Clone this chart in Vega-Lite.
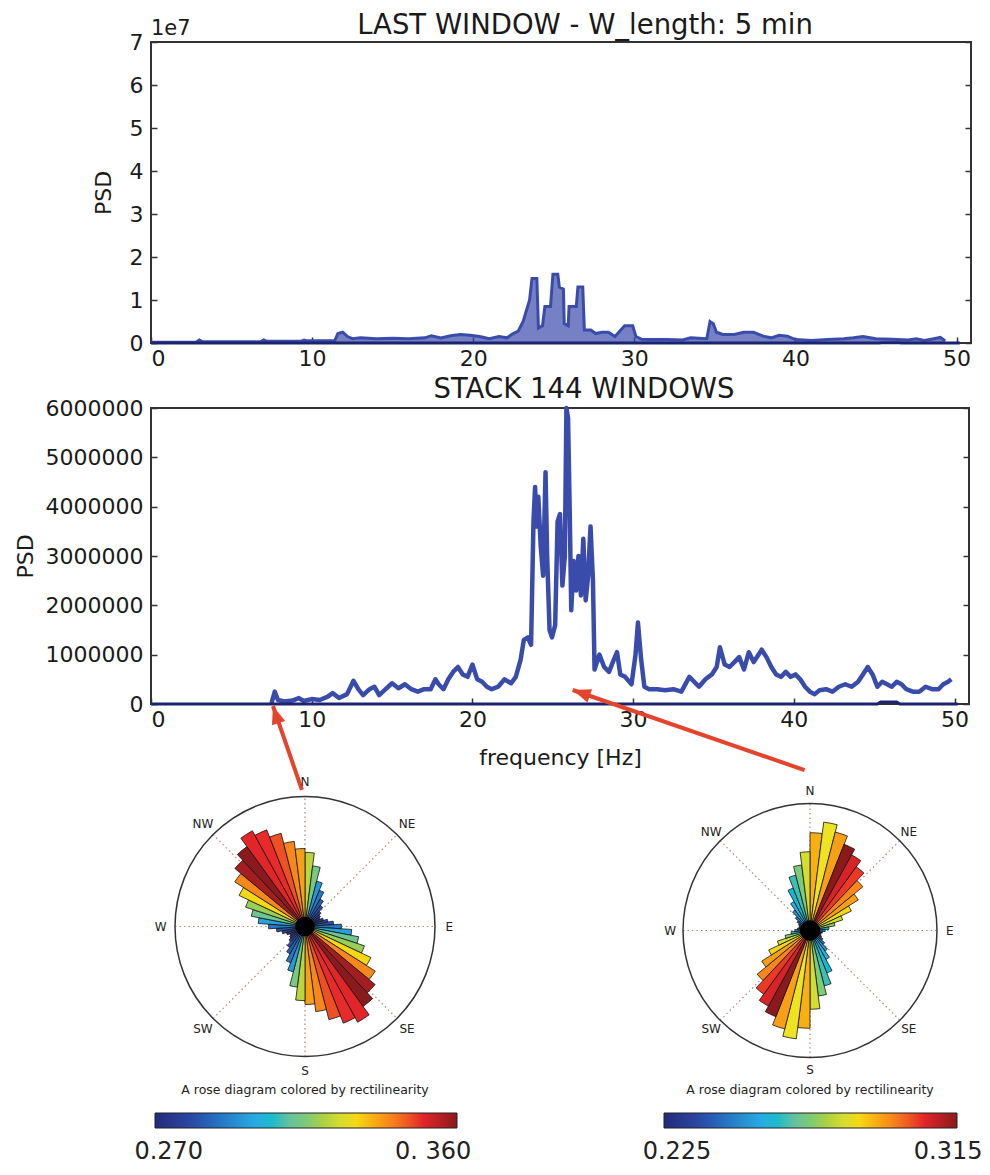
{
  "$schema": "https://vega.github.io/schema/vega-lite/v6.json",
  "padding": {"left": 13, "top": 10, "right": 0, "bottom": 0},
  "background": "white",
  "config": {"font": "DejaVu Sans", "view": {"stroke": null}},
  "datasets": {
    "top": [
      {"f":0,"psd":200000},{"f":2.8,"psd":200000},{"f":3.0,"psd":700000},{"f":3.2,"psd":300000},{"f":6.8,"psd":300000},{"f":7.0,"psd":700000},{"f":7.2,"psd":400000},{"f":9.3,"psd":400000},{"f":9.5,"psd":700000},{"f":9.7,"psd":500000},{"f":11.4,"psd":500000},{"f":11.6,"psd":2200000},{"f":11.9,"psd":2500000},{"f":12.2,"psd":1500000},{"f":12.5,"psd":1000000},{"f":13,"psd":1200000},{"f":14,"psd":1000000},{"f":15,"psd":1100000},{"f":16,"psd":1000000},{"f":17,"psd":1200000},{"f":17.4,"psd":1700000},{"f":18,"psd":1200000},{"f":18.6,"psd":1700000},{"f":19.2,"psd":2000000},{"f":19.8,"psd":1800000},{"f":20.4,"psd":1500000},{"f":21,"psd":1000000},{"f":21.6,"psd":1500000},{"f":22.1,"psd":1200000},{"f":22.4,"psd":2000000},{"f":22.8,"psd":2800000},{"f":23.1,"psd":5000000},{"f":23.3,"psd":7500000},{"f":23.5,"psd":10000000},{"f":23.65,"psd":15000000},{"f":23.95,"psd":15000000},{"f":24.05,"psd":3500000},{"f":24.3,"psd":4000000},{"f":24.45,"psd":8500000},{"f":24.8,"psd":8500000},{"f":24.95,"psd":16000000},{"f":25.25,"psd":16000000},{"f":25.35,"psd":13000000},{"f":25.6,"psd":12500000},{"f":25.65,"psd":4500000},{"f":25.9,"psd":4000000},{"f":25.95,"psd":8500000},{"f":26.4,"psd":8500000},{"f":26.5,"psd":13000000},{"f":26.8,"psd":13000000},{"f":26.9,"psd":3000000},{"f":27.3,"psd":3000000},{"f":27.6,"psd":2200000},{"f":28.0,"psd":2500000},{"f":28.4,"psd":2500000},{"f":28.8,"psd":1500000},{"f":29.4,"psd":4000000},{"f":29.9,"psd":4000000},{"f":30.1,"psd":1500000},{"f":30.5,"psd":800000},{"f":32,"psd":800000},{"f":33,"psd":700000},{"f":33.5,"psd":1200000},{"f":34.5,"psd":1000000},{"f":34.7,"psd":5000000},{"f":34.9,"psd":4500000},{"f":35.1,"psd":2500000},{"f":35.5,"psd":2000000},{"f":36.2,"psd":2000000},{"f":36.8,"psd":2500000},{"f":37.4,"psd":2500000},{"f":38,"psd":1600000},{"f":38.5,"psd":1200000},{"f":39,"psd":1800000},{"f":39.5,"psd":1600000},{"f":40,"psd":800000},{"f":41,"psd":600000},{"f":42,"psd":800000},{"f":43,"psd":1000000},{"f":43.6,"psd":1200000},{"f":44.2,"psd":1500000},{"f":45,"psd":1000000},{"f":46,"psd":900000},{"f":47,"psd":700000},{"f":47.5,"psd":1000000},{"f":48,"psd":600000},{"f":48.6,"psd":1000000},{"f":49,"psd":1300000},{"f":49.3,"psd":500000}
    ],
    "stack": [
      {"f":7.5,"psd":20000},{"f":7.7,"psd":250000},{"f":7.9,"psd":80000},{"f":8.3,"psd":50000},{"f":8.8,"psd":70000},{"f":9.2,"psd":120000},{"f":9.5,"psd":60000},{"f":10,"psd":100000},{"f":10.5,"psd":80000},{"f":11,"psd":150000},{"f":11.3,"psd":220000},{"f":11.7,"psd":120000},{"f":12.2,"psd":200000},{"f":12.6,"psd":470000},{"f":12.9,"psd":300000},{"f":13.2,"psd":180000},{"f":13.6,"psd":300000},{"f":13.9,"psd":350000},{"f":14.2,"psd":180000},{"f":14.6,"psd":300000},{"f":15,"psd":420000},{"f":15.4,"psd":320000},{"f":15.8,"psd":400000},{"f":16.2,"psd":300000},{"f":16.6,"psd":250000},{"f":17,"psd":300000},{"f":17.4,"psd":300000},{"f":17.7,"psd":500000},{"f":17.9,"psd":400000},{"f":18.2,"psd":300000},{"f":18.5,"psd":500000},{"f":18.8,"psd":650000},{"f":19.1,"psd":750000},{"f":19.4,"psd":600000},{"f":19.7,"psd":550000},{"f":20,"psd":800000},{"f":20.3,"psd":500000},{"f":20.6,"psd":450000},{"f":20.9,"psd":350000},{"f":21.2,"psd":300000},{"f":21.6,"psd":350000},{"f":22,"psd":500000},{"f":22.4,"psd":420000},{"f":22.7,"psd":550000},{"f":23.0,"psd":900000},{"f":23.2,"psd":1300000},{"f":23.45,"psd":1350000},{"f":23.65,"psd":1200000},{"f":23.8,"psd":3700000},{"f":23.9,"psd":4400000},{"f":24.0,"psd":3600000},{"f":24.1,"psd":4200000},{"f":24.25,"psd":3200000},{"f":24.4,"psd":2600000},{"f":24.55,"psd":4700000},{"f":24.65,"psd":3000000},{"f":24.8,"psd":1500000},{"f":24.95,"psd":1350000},{"f":25.15,"psd":1600000},{"f":25.3,"psd":3700000},{"f":25.45,"psd":3850000},{"f":25.6,"psd":2400000},{"f":25.75,"psd":3000000},{"f":25.85,"psd":6000000},{"f":25.95,"psd":5800000},{"f":26.05,"psd":4000000},{"f":26.15,"psd":1900000},{"f":26.3,"psd":2900000},{"f":26.45,"psd":2300000},{"f":26.6,"psd":3000000},{"f":26.75,"psd":2200000},{"f":26.9,"psd":3350000},{"f":27.05,"psd":2100000},{"f":27.2,"psd":2600000},{"f":27.35,"psd":3600000},{"f":27.5,"psd":2500000},{"f":27.6,"psd":700000},{"f":27.9,"psd":1000000},{"f":28.2,"psd":750000},{"f":28.5,"psd":650000},{"f":28.8,"psd":900000},{"f":29.0,"psd":1050000},{"f":29.2,"psd":600000},{"f":29.5,"psd":550000},{"f":29.9,"psd":400000},{"f":30.15,"psd":1000000},{"f":30.3,"psd":1650000},{"f":30.5,"psd":900000},{"f":30.7,"psd":350000},{"f":31,"psd":300000},{"f":31.5,"psd":300000},{"f":32,"psd":280000},{"f":32.5,"psd":300000},{"f":33,"psd":250000},{"f":33.5,"psd":550000},{"f":33.8,"psd":450000},{"f":34.1,"psd":350000},{"f":34.5,"psd":500000},{"f":34.9,"psd":600000},{"f":35.2,"psd":750000},{"f":35.4,"psd":1150000},{"f":35.7,"psd":800000},{"f":36,"psd":750000},{"f":36.3,"psd":850000},{"f":36.6,"psd":950000},{"f":36.9,"psd":700000},{"f":37.2,"psd":1050000},{"f":37.5,"psd":850000},{"f":37.8,"psd":1000000},{"f":38.0,"psd":1100000},{"f":38.3,"psd":950000},{"f":38.6,"psd":750000},{"f":38.9,"psd":600000},{"f":39.2,"psd":550000},{"f":39.5,"psd":650000},{"f":39.8,"psd":550000},{"f":40.1,"psd":600000},{"f":40.4,"psd":500000},{"f":40.7,"psd":350000},{"f":41.0,"psd":250000},{"f":41.3,"psd":200000},{"f":41.6,"psd":280000},{"f":42.0,"psd":300000},{"f":42.4,"psd":250000},{"f":42.8,"psd":350000},{"f":43.2,"psd":400000},{"f":43.6,"psd":350000},{"f":44.0,"psd":450000},{"f":44.3,"psd":600000},{"f":44.6,"psd":750000},{"f":44.9,"psd":600000},{"f":45.2,"psd":350000},{"f":45.5,"psd":450000},{"f":45.8,"psd":400000},{"f":46.1,"psd":350000},{"f":46.4,"psd":450000},{"f":46.7,"psd":400000},{"f":47.0,"psd":300000},{"f":47.4,"psd":250000},{"f":47.8,"psd":250000},{"f":48.2,"psd":350000},{"f":48.6,"psd":300000},{"f":49.0,"psd":300000},{"f":49.3,"psd":400000},{"f":49.6,"psd":450000},{"f":49.8,"psd":500000}
    ],
    "base": [
      {"f":0,"psd":0},{"f":45.2,"psd":0},{"f":45.4,"psd":40000},{"f":46.4,"psd":40000},{"f":46.6,"psd":0},{"f":50.2,"psd":0}
    ],
    "arrows": [
      {"id":"a","f":9.39,"psd":-1740000,"f2":7.59,"psd2":-40000},
      {"id":"b","f":40.67,"psd":-1340000,"f2":26.24,"psd2":284000}
    ],
    "spokes": [
      {"x":0,"y":-1,"x2":0,"y2":1},{"x":-1,"y":0,"x2":1,"y2":0},
      {"x":-0.7071,"y":-0.7071,"x2":0.7071,"y2":0.7071},{"x":-0.7071,"y":0.7071,"x2":0.7071,"y2":-0.7071}
    ],
    "compass": [
      {"d":"N","ang":0},{"d":"NE","ang":45},{"d":"E","ang":90},{"d":"SE","ang":135},
      {"d":"S","ang":180},{"d":"SW","ang":225},{"d":"W","ang":270},{"d":"NW","ang":315}
    ],
    "roseL": [
      {"a0":0,"a1":7.2,"r":0.57,"v":0.322},{"a0":7.2,"a1":14.4,"r":0.47,"v":0.314},{"a0":14.4,"a1":21.6,"r":0.36,"v":0.296},{"a0":21.6,"a1":28.8,"r":0.30,"v":0.29},{"a0":28.8,"a1":36,"r":0.24,"v":0.285},{"a0":36,"a1":43.2,"r":0.20,"v":0.281},{"a0":43.2,"a1":50.4,"r":0.16,"v":0.278},{"a0":50.4,"a1":57.6,"r":0.14,"v":0.276},{"a0":57.6,"a1":64.8,"r":0.13,"v":0.275},{"a0":64.8,"a1":72,"r":0.15,"v":0.277},{"a0":72,"a1":79.2,"r":0.18,"v":0.28},{"a0":79.2,"a1":86.4,"r":0.22,"v":0.284},{"a0":86.4,"a1":93.6,"r":0.28,"v":0.29},{"a0":93.6,"a1":100.8,"r":0.36,"v":0.298},{"a0":100.8,"a1":108,"r":0.42,"v":0.312},{"a0":108,"a1":115.2,"r":0.48,"v":0.318},{"a0":115.2,"a1":122.4,"r":0.56,"v":0.33},{"a0":122.4,"a1":129.6,"r":0.64,"v":0.34},{"a0":129.6,"a1":136.8,"r":0.70,"v":0.357},{"a0":136.8,"a1":144,"r":0.76,"v":0.36},{"a0":144,"a1":151.2,"r":0.84,"v":0.35},{"a0":151.2,"a1":158.4,"r":0.80,"v":0.349},{"a0":158.4,"a1":165.6,"r":0.74,"v":0.346},{"a0":165.6,"a1":172.8,"r":0.66,"v":0.34},{"a0":172.8,"a1":180,"r":0.60,"v":0.337},
      {"a0":180,"a1":187.2,"r":0.57,"v":0.322},{"a0":187.2,"a1":194.4,"r":0.47,"v":0.314},{"a0":194.4,"a1":201.6,"r":0.36,"v":0.296},{"a0":201.6,"a1":208.8,"r":0.30,"v":0.29},{"a0":208.8,"a1":216,"r":0.24,"v":0.285},{"a0":216,"a1":223.2,"r":0.20,"v":0.281},{"a0":223.2,"a1":230.4,"r":0.16,"v":0.278},{"a0":230.4,"a1":237.6,"r":0.14,"v":0.276},{"a0":237.6,"a1":244.8,"r":0.13,"v":0.275},{"a0":244.8,"a1":252,"r":0.15,"v":0.277},{"a0":252,"a1":259.2,"r":0.18,"v":0.28},{"a0":259.2,"a1":266.4,"r":0.22,"v":0.284},{"a0":266.4,"a1":273.6,"r":0.28,"v":0.29},{"a0":273.6,"a1":280.8,"r":0.36,"v":0.298},{"a0":280.8,"a1":288,"r":0.42,"v":0.312},{"a0":288,"a1":295.2,"r":0.48,"v":0.318},{"a0":295.2,"a1":302.4,"r":0.56,"v":0.33},{"a0":302.4,"a1":309.6,"r":0.64,"v":0.34},{"a0":309.6,"a1":316.8,"r":0.70,"v":0.357},{"a0":316.8,"a1":324,"r":0.76,"v":0.36},{"a0":324,"a1":331.2,"r":0.84,"v":0.35},{"a0":331.2,"a1":338.4,"r":0.80,"v":0.349},{"a0":338.4,"a1":345.6,"r":0.74,"v":0.346},{"a0":345.6,"a1":352.8,"r":0.66,"v":0.34},{"a0":352.8,"a1":360,"r":0.60,"v":0.337}
    ],
    "roseR": [
      {"a0":0,"a1":7.2,"r":0.77,"v":0.29},{"a0":7.2,"a1":14.4,"r":0.86,"v":0.283},{"a0":14.4,"a1":21.6,"r":0.80,"v":0.292},{"a0":21.6,"a1":28.8,"r":0.73,"v":0.315},{"a0":28.8,"a1":36,"r":0.68,"v":0.306},{"a0":36,"a1":43.2,"r":0.62,"v":0.303},{"a0":43.2,"a1":50.4,"r":0.54,"v":0.295},{"a0":50.4,"a1":57.6,"r":0.45,"v":0.292},{"a0":57.6,"a1":64.8,"r":0.36,"v":0.285},{"a0":64.8,"a1":72,"r":0.27,"v":0.28},{"a0":72,"a1":79.2,"r":0.20,"v":0.272},{"a0":79.2,"a1":86.4,"r":0.15,"v":0.26},{"a0":86.4,"a1":93.6,"r":0.12,"v":0.25},{"a0":93.6,"a1":100.8,"r":0.10,"v":0.24},{"a0":100.8,"a1":108,"r":0.09,"v":0.235},{"a0":108,"a1":115.2,"r":0.09,"v":0.232},{"a0":115.2,"a1":122.4,"r":0.10,"v":0.235},{"a0":122.4,"a1":129.6,"r":0.12,"v":0.24},{"a0":129.6,"a1":136.8,"r":0.15,"v":0.245},{"a0":136.8,"a1":144,"r":0.20,"v":0.25},{"a0":144,"a1":151.2,"r":0.26,"v":0.256},{"a0":151.2,"a1":158.4,"r":0.36,"v":0.259},{"a0":158.4,"a1":165.6,"r":0.45,"v":0.262},{"a0":165.6,"a1":172.8,"r":0.52,"v":0.27},{"a0":172.8,"a1":180,"r":0.62,"v":0.28},
      {"a0":180,"a1":187.2,"r":0.77,"v":0.29},{"a0":187.2,"a1":194.4,"r":0.86,"v":0.283},{"a0":194.4,"a1":201.6,"r":0.80,"v":0.292},{"a0":201.6,"a1":208.8,"r":0.73,"v":0.315},{"a0":208.8,"a1":216,"r":0.68,"v":0.306},{"a0":216,"a1":223.2,"r":0.62,"v":0.303},{"a0":223.2,"a1":230.4,"r":0.54,"v":0.295},{"a0":230.4,"a1":237.6,"r":0.45,"v":0.292},{"a0":237.6,"a1":244.8,"r":0.36,"v":0.285},{"a0":244.8,"a1":252,"r":0.27,"v":0.28},{"a0":252,"a1":259.2,"r":0.20,"v":0.272},{"a0":259.2,"a1":266.4,"r":0.15,"v":0.26},{"a0":266.4,"a1":273.6,"r":0.12,"v":0.25},{"a0":273.6,"a1":280.8,"r":0.10,"v":0.24},{"a0":280.8,"a1":288,"r":0.09,"v":0.235},{"a0":288,"a1":295.2,"r":0.09,"v":0.232},{"a0":295.2,"a1":302.4,"r":0.10,"v":0.235},{"a0":302.4,"a1":309.6,"r":0.12,"v":0.24},{"a0":309.6,"a1":316.8,"r":0.15,"v":0.245},{"a0":316.8,"a1":324,"r":0.20,"v":0.25},{"a0":324,"a1":331.2,"r":0.26,"v":0.256},{"a0":331.2,"a1":338.4,"r":0.36,"v":0.259},{"a0":338.4,"a1":345.6,"r":0.45,"v":0.262},{"a0":345.6,"a1":352.8,"r":0.52,"v":0.27},{"a0":352.8,"a1":360,"r":0.62,"v":0.28}
    ]
  },
  "bounds": "flush",
  "spacing": 65,
  "vconcat": [
    {
      "width": 820,
      "height": 301,
      "view": {"stroke": "#333333", "strokeWidth": 2},
      "title": {"text": "LAST WINDOW - W_length: 5 min", "fontSize": 27.5, "fontWeight": "normal", "offset": -21, "dx": 24, "color": "#1a1a1a"},
      "resolve": {"axis": {"x": "independent", "y": "independent"}},
      "layer": [
        {
          "data": {"name": "top"},
          "mark": {"type": "area", "color": "#3a4cab", "line": {"color": "#3a4cab", "strokeWidth": 3}},
          "encoding": {
            "x": {"field": "f", "type": "quantitative", "scale": {"domain": [0, 50.9], "nice": false, "zero": false},
                  "axis": {"orient": "bottom", "values": [0,10,20,30,40,50], "ticks": false, "domain": false, "grid": false, "labelFontSize": 22, "labelPadding": 5, "labelColor": "#1a1a1a", "title": null}},
            "y": {"field": "psd", "type": "quantitative", "scale": {"domain": [0, 70000000], "nice": false},
                  "axis": {"orient": "left", "values": [0,10000000,20000000,30000000,40000000,50000000,60000000,70000000], "labelExpr": "format(datum.value/10000000,'d')", "ticks": false, "domain": false, "grid": false, "labelFontSize": 22, "labelPadding": 8, "labelColor": "#1a1a1a", "title": "PSD", "titleFontSize": 22, "titleFontWeight": "normal", "titleColor": "#1a1a1a", "titlePadding": 14}}
          }
        },
        {
          "data": {"name": "base"},
          "mark": {"type": "line", "color": "#1c2370", "strokeWidth": 3},
          "encoding": {
            "x": {"field": "f", "type": "quantitative", "axis": null},
            "y": {"field": "psd", "type": "quantitative", "axis": {"orient": "right", "values": [0,10000000,20000000,30000000,40000000,50000000,60000000,70000000], "labels": false, "domain": false, "grid": false, "ticks": true, "tickSize": -6, "tickColor": "#333333", "tickWidth": 1.5, "title": null, "minExtent": 0, "maxExtent": 0}}
          }
        },
        {
          "data": {"values": [{"f": 0, "psd": 70000000, "t": "1e7"}]},
          "mark": {"type": "text", "align": "left", "baseline": "alphabetic", "dy": -7, "fontSize": 21, "color": "#1a1a1a"},
          "encoding": {
            "x": {"field": "f", "type": "quantitative", "axis": {"orient": "bottom", "values": [0,10,20,30,40,50], "labels": false, "domain": false, "grid": false, "ticks": true, "tickSize": -6, "tickColor": "#333333", "tickWidth": 1.5, "title": null, "minExtent": 0, "maxExtent": 0}},
            "y": {"field": "psd", "type": "quantitative", "axis": {"orient": "left", "values": [0,10000000,20000000,30000000,40000000,50000000,60000000,70000000], "labels": false, "domain": false, "grid": false, "ticks": true, "tickSize": -6, "tickColor": "#333333", "tickWidth": 1.5, "title": null, "minExtent": 0, "maxExtent": 0}},
            "text": {"field": "t"}
          }
        }
      ]
    },
    {
      "width": 818,
      "height": 296,
      "view": {"stroke": "#333333", "strokeWidth": 2},
      "title": {"text": "STACK 144 WINDOWS", "fontSize": 27.5, "fontWeight": "normal", "offset": -6, "dx": 24, "color": "#1a1a1a"},
      "resolve": {"axis": {"x": "independent", "y": "independent"}},
      "layer": [
        {
          "data": {"name": "stack"},
          "mark": {"type": "line", "color": "#3a4cab", "strokeWidth": 4.5, "strokeJoin": "round"},
          "encoding": {
            "x": {"field": "f", "type": "quantitative", "scale": {"domain": [0, 50.9], "nice": false, "zero": false},
                  "axis": {"orient": "bottom", "values": [0,10,20,30,40,50], "ticks": false, "domain": false, "grid": false, "labelFontSize": 22, "labelPadding": 5, "labelColor": "#1a1a1a", "title": "frequency [Hz]", "titleFontSize": 22, "titleFontWeight": "normal", "titleColor": "#1a1a1a", "titlePadding": 17}},
            "y": {"field": "psd", "type": "quantitative", "scale": {"domain": [0, 6000000], "nice": false},
                  "axis": {"orient": "left", "values": [0,1000000,2000000,3000000,4000000,5000000,6000000], "format": "d", "ticks": false, "domain": false, "grid": false, "labelFontSize": 22, "labelPadding": 8, "labelColor": "#1a1a1a", "title": "PSD", "titleFontSize": 22, "titleFontWeight": "normal", "titleColor": "#1a1a1a", "titlePadding": 8}}
          }
        },
        {
          "data": {"name": "base"},
          "mark": {"type": "line", "color": "#1c2370", "strokeWidth": 3},
          "encoding": {
            "x": {"field": "f", "type": "quantitative", "axis": null},
            "y": {"field": "psd", "type": "quantitative", "axis": {"orient": "right", "values": [0,1000000,2000000,3000000,4000000,5000000,6000000], "labels": false, "domain": false, "grid": false, "ticks": true, "tickSize": -6, "tickColor": "#333333", "tickWidth": 1.5, "title": null, "minExtent": 0, "maxExtent": 0}}
          }
        },
        {
          "data": {"name": "arrows"},
          "mark": {"type": "rule", "color": "#e5432b", "strokeWidth": 4, "clip": false},
          "encoding": {
            "x": {"field": "f", "type": "quantitative", "axis": {"orient": "bottom", "values": [0,10,20,30,40,50], "labels": false, "domain": false, "grid": false, "ticks": true, "tickSize": -6, "tickColor": "#333333", "tickWidth": 1.5, "title": null, "minExtent": 0, "maxExtent": 0}},
            "y": {"field": "psd", "type": "quantitative", "axis": {"orient": "left", "values": [0,1000000,2000000,3000000,4000000,5000000,6000000], "labels": false, "domain": false, "grid": false, "ticks": true, "tickSize": -6, "tickColor": "#333333", "tickWidth": 1.5, "title": null, "minExtent": 0, "maxExtent": 0}},
            "x2": {"field": "f2"},
            "y2": {"field": "psd2"}
          }
        },
        {
          "data": {"name": "arrows"},
          "transform": [{"filter": "datum.id == 'a'"}],
          "mark": {"type": "point", "shape": "M0,0L-0.65,1.7L0.65,1.7Z", "filled": true, "color": "#e5432b", "opacity": 1, "size": 450, "angle": -18, "clip": false},
          "encoding": {
            "x": {"field": "f2", "type": "quantitative", "axis": null},
            "y": {"field": "psd2", "type": "quantitative", "axis": null}
          }
        },
        {
          "data": {"name": "arrows"},
          "transform": [{"filter": "datum.id == 'b'"}],
          "mark": {"type": "point", "shape": "M0,0L-0.65,1.7L0.65,1.7Z", "filled": true, "color": "#e5432b", "opacity": 1, "size": 450, "angle": -71, "clip": false},
          "encoding": {
            "x": {"field": "f2", "type": "quantitative", "axis": null},
            "y": {"field": "psd2", "type": "quantitative", "axis": null}
          }
        }
      ]
    },
    {
      "bounds": "flush",
      "spacing": 197,
      "resolve": {"scale": {"color": "independent", "theta": "independent", "radius": "independent", "x": "independent", "y": "independent"}, "legend": {"color": "independent"}},
      "hconcat": [
        {
          "width": 308,
          "height": 315,
          "layer": [
            {
              "data": {"name": "spokes"},
              "mark": {"type": "rule", "color": "#b08878", "strokeDash": [1.5, 3], "strokeWidth": 1.2},
              "encoding": {
                "x": {"field": "x", "type": "quantitative", "scale": {"domain": [-1.1846, 1.1846], "nice": false, "zero": false}, "axis": null},
                "y": {"field": "y", "type": "quantitative", "scale": {"domain": [-1.2115, 1.2115], "nice": false, "zero": false}, "axis": null},
                "x2": {"field": "x2"},
                "y2": {"field": "y2"}
              }
            },
            {
              "data": {"values": [{"x": 0, "y": -1.258, "t": "A rose diagram colored by rectilinearity"}]},
              "mark": {"type": "text", "align": "center", "baseline": "middle", "fontSize": 12.5, "color": "#222222"},
              "encoding": {
                "x": {"field": "x", "type": "quantitative", "axis": null},
                "y": {"field": "y", "type": "quantitative", "axis": null},
                "text": {"field": "t"}
              }
            },
            {
              "data": {"values": [{"t0": 0, "t1": 360, "r": 1}]},
              "mark": {"type": "arc", "filled": false, "stroke": "#333333", "strokeWidth": 1.5},
              "encoding": {
                "theta": {"field": "t0", "type": "quantitative", "scale": {"domain": [0, 360]}, "stack": null},
                "theta2": {"field": "t1"},
                "radius": {"field": "r", "type": "quantitative", "scale": {"type": "linear", "domain": [0, 1], "range": [0, 130], "zero": true, "nice": false}}
              }
            },
            {
              "data": {"name": "roseL"},
              "mark": {"type": "arc", "stroke": "#111111", "strokeWidth": 0.8},
              "encoding": {
                "theta": {"field": "a0", "type": "quantitative", "scale": {"domain": [0, 360]}, "stack": null},
                "theta2": {"field": "a1"},
                "radius": {"field": "r", "type": "quantitative", "scale": {"type": "linear", "domain": [0, 1], "range": [0, 130], "zero": true, "nice": false}},
                "color": {"field": "v", "type": "quantitative",
                  "scale": {"domain": [0.27, 0.28125, 0.2925, 0.3015, 0.3105, 0.3195, 0.3285, 0.3384, 0.3492, 0.36],
                            "range": ["#222a7a", "#2b4aa6", "#2b86cc", "#2ab3e6", "#6cc19a", "#a8cf45", "#f2e41e", "#f7941d", "#e8262a", "#8b1a1c"]},
                  "legend": {"orient": "none", "legendX": 4, "legendY": 344, "direction": "horizontal", "gradientLength": 302, "gradientThickness": 15, "title": null, "values": [0.2741, 0.3529], "labelExpr": "datum.value < 0.3 ? '0.270' : '0. 360'", "labelFontSize": 24, "labelAlign": "center", "labelOffset": 12, "labelColor": "#222222", "gradientStrokeColor": "#222222", "gradientStrokeWidth": 1}}
              }
            },
            {
              "data": {"values": [{"t0": 0, "t1": 360, "r": 0.075}]},
              "mark": {"type": "arc", "color": "#000000"},
              "encoding": {
                "theta": {"field": "t0", "type": "quantitative", "scale": {"domain": [0, 360]}, "stack": null},
                "theta2": {"field": "t1"},
                "radius": {"field": "r", "type": "quantitative", "scale": {"type": "linear", "domain": [0, 1], "range": [0, 130], "zero": true, "nice": false}}
              }
            },
            {
              "data": {"name": "compass"},
              "mark": {"type": "text", "align": "center", "baseline": "middle", "fontSize": 12, "color": "#222222"},
              "encoding": {
                "theta": {"field": "ang", "type": "quantitative", "scale": {"domain": [0, 360]}},
                "radius": {"datum": 1.11, "type": "quantitative", "scale": {"type": "linear", "domain": [0, 1], "range": [0, 130], "zero": true, "nice": false}},
                "text": {"field": "d"}
              }
            }
          ]
        },
        {
          "width": 308,
          "height": 323,
          "layer": [
            {
              "data": {"name": "spokes"},
              "mark": {"type": "rule", "color": "#b08878", "strokeDash": [1.5, 3], "strokeWidth": 1.2},
              "encoding": {
                "x": {"field": "x", "type": "quantitative", "scale": {"domain": [-1.2126, 1.2126], "nice": false, "zero": false}, "axis": null},
                "y": {"field": "y", "type": "quantitative", "scale": {"domain": [-1.2717, 1.2717], "nice": false, "zero": false}, "axis": null},
                "x2": {"field": "x2"},
                "y2": {"field": "y2"}
              }
            },
            {
              "data": {"values": [{"x": 0, "y": -1.256, "t": "A rose diagram colored by rectilinearity"}]},
              "mark": {"type": "text", "align": "center", "baseline": "middle", "fontSize": 12.5, "color": "#222222"},
              "encoding": {
                "x": {"field": "x", "type": "quantitative", "axis": null},
                "y": {"field": "y", "type": "quantitative", "axis": null},
                "text": {"field": "t"}
              }
            },
            {
              "data": {"values": [{"t0": 0, "t1": 360, "r": 1}]},
              "mark": {"type": "arc", "filled": false, "stroke": "#333333", "strokeWidth": 1.5},
              "encoding": {
                "theta": {"field": "t0", "type": "quantitative", "scale": {"domain": [0, 360]}, "stack": null},
                "theta2": {"field": "t1"},
                "radius": {"field": "r", "type": "quantitative", "scale": {"type": "linear", "domain": [0, 1], "range": [0, 127], "zero": true, "nice": false}}
              }
            },
            {
              "data": {"name": "roseR"},
              "mark": {"type": "arc", "stroke": "#111111", "strokeWidth": 0.8},
              "encoding": {
                "theta": {"field": "a0", "type": "quantitative", "scale": {"domain": [0, 360]}, "stack": null},
                "theta2": {"field": "a1"},
                "radius": {"field": "r", "type": "quantitative", "scale": {"type": "linear", "domain": [0, 1], "range": [0, 127], "zero": true, "nice": false}},
                "color": {"field": "v", "type": "quantitative",
                  "scale": {"domain": [0.225, 0.23625, 0.2475, 0.2565, 0.2655, 0.2745, 0.2835, 0.2934, 0.3042, 0.315],
                            "range": ["#222a7a", "#2b4aa6", "#2b86cc", "#2ab3e6", "#6cc19a", "#a8cf45", "#f2e41e", "#f7941d", "#e8262a", "#8b1a1c"]},
                  "legend": {"orient": "none", "legendX": 8, "legendY": 344, "direction": "horizontal", "gradientLength": 293, "gradientThickness": 15, "title": null, "values": [0.229, 0.3123], "labelExpr": "datum.value < 0.27 ? '0.225' : '0.315'", "labelFontSize": 24, "labelAlign": "center", "labelOffset": 12, "labelColor": "#222222", "gradientStrokeColor": "#222222", "gradientStrokeWidth": 1}}
              }
            },
            {
              "data": {"values": [{"t0": 0, "t1": 360, "r": 0.08}]},
              "mark": {"type": "arc", "color": "#000000"},
              "encoding": {
                "theta": {"field": "t0", "type": "quantitative", "scale": {"domain": [0, 360]}, "stack": null},
                "theta2": {"field": "t1"},
                "radius": {"field": "r", "type": "quantitative", "scale": {"type": "linear", "domain": [0, 1], "range": [0, 127], "zero": true, "nice": false}}
              }
            },
            {
              "data": {"name": "compass"},
              "mark": {"type": "text", "align": "center", "baseline": "middle", "fontSize": 12, "color": "#222222"},
              "encoding": {
                "theta": {"field": "ang", "type": "quantitative", "scale": {"domain": [0, 360]}},
                "radius": {"datum": 1.1, "type": "quantitative", "scale": {"type": "linear", "domain": [0, 1], "range": [0, 127], "zero": true, "nice": false}},
                "text": {"field": "d"}
              }
            }
          ]
        }
      ]
    }
  ]
}
